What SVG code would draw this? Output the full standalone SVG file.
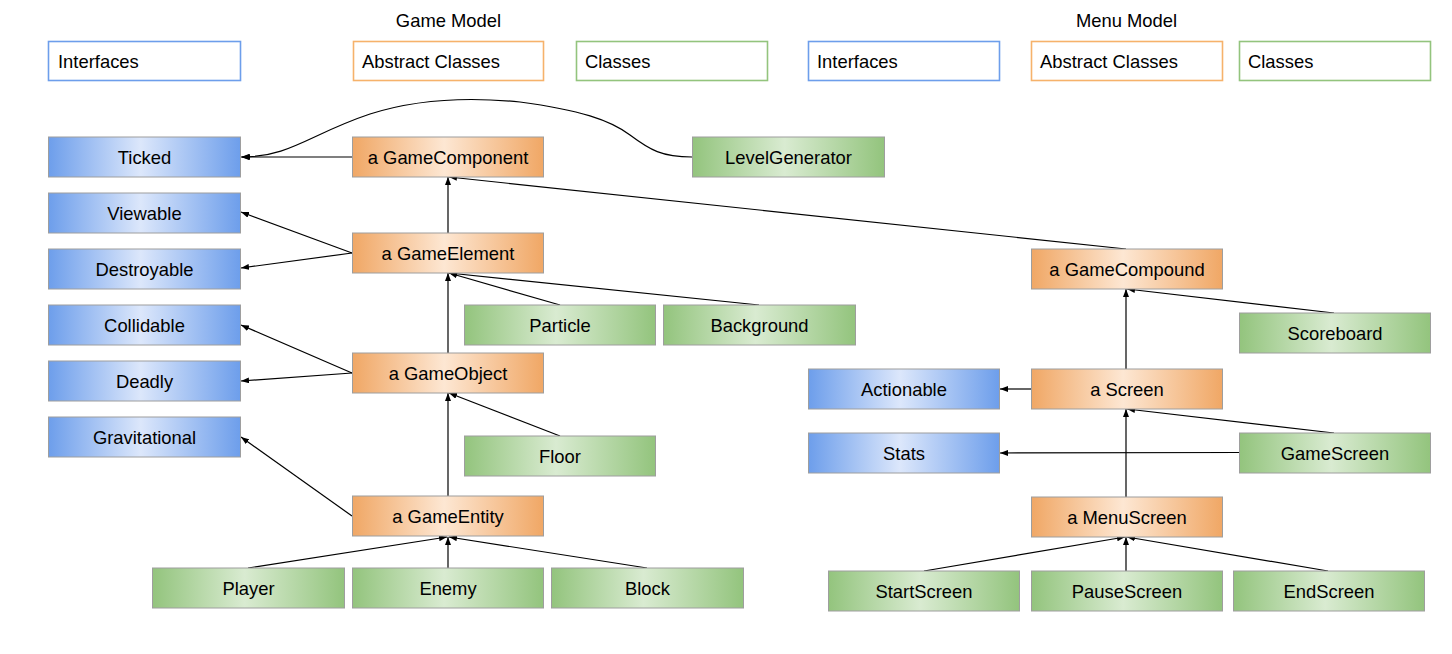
<svg xmlns="http://www.w3.org/2000/svg" width="1452" height="654" viewBox="0 0 1452 654">
<defs>
<linearGradient id="gBlue" x1="0" y1="0" x2="1" y2="0">
<stop offset="0" stop-color="#6d9eeb"/><stop offset="0.48" stop-color="#dce7fb"/><stop offset="1" stop-color="#6d9eeb"/>
</linearGradient>
<linearGradient id="gOrange" x1="0" y1="0" x2="1" y2="0">
<stop offset="0" stop-color="#f0a765"/><stop offset="0.48" stop-color="#fde7d3"/><stop offset="1" stop-color="#f0a765"/>
</linearGradient>
<linearGradient id="gGreen" x1="0" y1="0" x2="1" y2="0">
<stop offset="0" stop-color="#93c47d"/><stop offset="0.48" stop-color="#d9ebd1"/><stop offset="1" stop-color="#93c47d"/>
</linearGradient>
<marker id="arr" viewBox="0 0 8 6" refX="8" refY="3" markerWidth="8" markerHeight="6" markerUnits="userSpaceOnUse" orient="auto">
<path d="M0,0 L8,3 L0,6 z" fill="#000"/>
</marker>
<style>
text{font-family:"Liberation Sans",Arial,sans-serif;font-size:18.4px;fill:#000}
.c{text-anchor:middle}
.iface{fill:url(#gBlue);stroke:#9e9e9e;stroke-width:1}
.abs{fill:url(#gOrange);stroke:#9e9e9e;stroke-width:1}
.cls{fill:url(#gGreen);stroke:#9e9e9e;stroke-width:1}
.lb{fill:#fff;stroke:#6d9eeb;stroke-width:1.6}
.lo{fill:#fff;stroke:#f6b26b;stroke-width:1.6}
.lg{fill:#fff;stroke:#93c47d;stroke-width:1.6}
.e{fill:none;stroke:#000;stroke-width:1.2;marker-end:url(#arr)}
</style>
</defs>
<rect width="1452" height="654" fill="#fff"/>

<g id="legend">
<text class="c" x="448.5" y="27">Game Model</text>
<text class="c" x="1126.5" y="27">Menu Model</text>
<rect class="lb" x="48.5" y="41.5" width="192" height="39"/><text x="58" y="67.5">Interfaces</text>
<rect class="lo" x="353.5" y="41.5" width="190" height="39"/><text x="362" y="67.5">Abstract Classes</text>
<rect class="lg" x="576.5" y="41.5" width="191" height="39"/><text x="585" y="67.5">Classes</text>
<rect class="lb" x="808.5" y="41.5" width="191" height="39"/><text x="817" y="67.5">Interfaces</text>
<rect class="lo" x="1031.5" y="41.5" width="191" height="39"/><text x="1040" y="67.5">Abstract Classes</text>
<rect class="lg" x="1239.5" y="41.5" width="191" height="39"/><text x="1248" y="67.5">Classes</text>
</g>

<g id="connectors">
<path class="e" d="M692,157 C662,157 650,150 630,135 C610,120 580,110 520,102 C470,97 420,98 370,114 C310,134 290,157 242,157"/>
<path class="e" d="M352,157 L241,157"/>
<path class="e" d="M448,233 L448,177"/>
<path class="e" d="M1126,249 L449,177"/>
<path class="e" d="M352,253 L241,212"/>
<path class="e" d="M352,253 L241,268"/>
<path class="e" d="M560,305 L449,273"/>
<path class="e" d="M759,305 L449,273"/>
<path class="e" d="M448,353 L448,273"/>
<path class="e" d="M352,373 L241,325"/>
<path class="e" d="M352,373 L241,381"/>
<path class="e" d="M560,436 L449,393"/>
<path class="e" d="M448,496 L448,393"/>
<path class="e" d="M352,516 L241,437"/>
<path class="e" d="M248,568 L447,537"/>
<path class="e" d="M448,568 L448,537"/>
<path class="e" d="M647,568 L449,537"/>
<path class="e" d="M1334,313 L1127,289"/>
<path class="e" d="M1126,369 L1126,289"/>
<path class="e" d="M1031,389 L1000,389"/>
<path class="e" d="M1334,433 L1127,409"/>
<path class="e" d="M1239,452.5 L1000,453"/>
<path class="e" d="M1126,497 L1126,409"/>
<path class="e" d="M924,571 L1125,537"/>
<path class="e" d="M1126,571 L1126,537"/>
<path class="e" d="M1328,571 L1127,537"/>
</g>

<g id="Ticked"><rect class="iface" x="48.5" y="137" width="192" height="40"/><text class="c" x="144.5" y="163.6">Ticked</text></g>
<g id="Viewable"><rect class="iface" x="48.5" y="193" width="192" height="40"/><text class="c" x="144.5" y="219.6">Viewable</text></g>
<g id="Destroyable"><rect class="iface" x="48.5" y="249" width="192" height="40"/><text class="c" x="144.5" y="275.6">Destroyable</text></g>
<g id="Collidable"><rect class="iface" x="48.5" y="305" width="192" height="40"/><text class="c" x="144.5" y="331.6">Collidable</text></g>
<g id="Deadly"><rect class="iface" x="48.5" y="361" width="192" height="40"/><text class="c" x="144.5" y="387.6">Deadly</text></g>
<g id="Gravitational"><rect class="iface" x="48.5" y="417" width="192" height="40"/><text class="c" x="144.5" y="443.6">Gravitational</text></g>

<g id="GameComponent"><rect class="abs" x="352.5" y="137" width="191" height="40"/><text class="c" x="448" y="163.6">a GameComponent</text></g>
<g id="LevelGenerator"><rect class="cls" x="692.5" y="137" width="192" height="40"/><text class="c" x="788.5" y="163.6">LevelGenerator</text></g>
<g id="GameElement"><rect class="abs" x="352.5" y="233" width="191" height="40"/><text class="c" x="448" y="259.6">a GameElement</text></g>
<g id="Particle"><rect class="cls" x="464.5" y="305" width="191" height="40"/><text class="c" x="560" y="331.6">Particle</text></g>
<g id="Background"><rect class="cls" x="663.5" y="305" width="192" height="40"/><text class="c" x="759.5" y="331.6">Background</text></g>
<g id="GameObject"><rect class="abs" x="352.5" y="353" width="191" height="40"/><text class="c" x="448" y="379.6">a GameObject</text></g>
<g id="Floor"><rect class="cls" x="464.5" y="436" width="191" height="40"/><text class="c" x="560" y="462.6">Floor</text></g>
<g id="GameEntity"><rect class="abs" x="352.5" y="496" width="191" height="40"/><text class="c" x="448" y="522.6">a GameEntity</text></g>
<g id="Player"><rect class="cls" x="152.5" y="568" width="192" height="40"/><text class="c" x="248.5" y="594.6">Player</text></g>
<g id="Enemy"><rect class="cls" x="352.5" y="568" width="191" height="40"/><text class="c" x="448" y="594.6">Enemy</text></g>
<g id="Block"><rect class="cls" x="551.5" y="568" width="192" height="40"/><text class="c" x="647.5" y="594.6">Block</text></g>

<g id="GameCompound"><rect class="abs" x="1031.5" y="249" width="191" height="40"/><text class="c" x="1127" y="275.6">a GameCompound</text></g>
<g id="Scoreboard"><rect class="cls" x="1239.5" y="313" width="191" height="40"/><text class="c" x="1335" y="339.6">Scoreboard</text></g>
<g id="Actionable"><rect class="iface" x="808.5" y="369" width="191" height="40"/><text class="c" x="904" y="395.6">Actionable</text></g>
<g id="Screen"><rect class="abs" x="1031.5" y="369" width="191" height="40"/><text class="c" x="1127" y="395.6">a Screen</text></g>
<g id="Stats"><rect class="iface" x="808.5" y="433" width="191" height="40"/><text class="c" x="904" y="459.6">Stats</text></g>
<g id="GameScreen"><rect class="cls" x="1239.5" y="433" width="191" height="40"/><text class="c" x="1335" y="459.6">GameScreen</text></g>
<g id="MenuScreen"><rect class="abs" x="1031.5" y="497" width="191" height="40"/><text class="c" x="1127" y="523.6">a MenuScreen</text></g>
<g id="StartScreen"><rect class="cls" x="828.5" y="571" width="191" height="40"/><text class="c" x="924" y="597.6">StartScreen</text></g>
<g id="PauseScreen"><rect class="cls" x="1031.5" y="571" width="191" height="40"/><text class="c" x="1127" y="597.6">PauseScreen</text></g>
<g id="EndScreen"><rect class="cls" x="1233.5" y="571" width="191" height="40"/><text class="c" x="1329" y="597.6">EndScreen</text></g>
</svg>
